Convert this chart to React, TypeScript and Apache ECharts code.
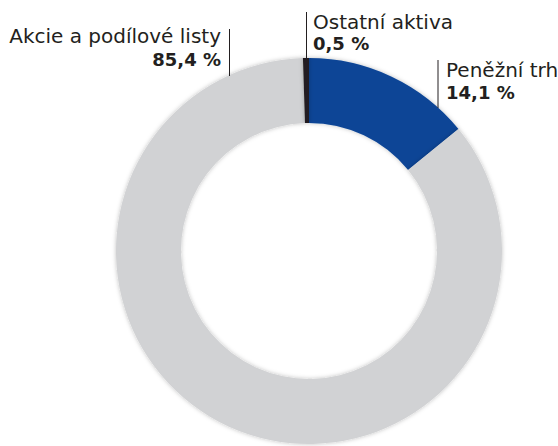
import React, { useEffect, useRef } from "react";
import * as echarts from "echarts";

const categories = ["Peněžní trh", "Akcie a podílové listy", "Ostatní aktiva"];
const values = [14.1, 85.4, 0.5];
const valueLabels = ["14,1 %", "85,4 %", "0,5 %"];
const colors = ["#0b4596", "#d1d2d4", "#231f20"];

export default function App() {
  const ref = useRef<HTMLDivElement>(null);
  useEffect(() => {
    document.body.style.margin = "0";
    if (!ref.current) return;
    const chart = echarts.init(ref.current, null, { renderer: "svg" });
    const font = "DejaVu Sans";
    const txt = "#231f20";
    const nameStyle = (text: string, x: number, y: number, align: string) => ({
      type: "text",
      style: { text, x, y, fill: txt, font: `20px "${font}"`, textAlign: align, textVerticalAlign: "middle" },
    });
    const valStyle = (text: string, x: number, y: number, align: string) => ({
      type: "text",
      style: { text, x, y, fill: txt, font: `bold 18px "${font}"`, textAlign: align, textVerticalAlign: "middle" },
    });
    const line = (x: number, y1: number, y2: number) => ({
      type: "line",
      shape: { x1: x, y1, x2: x, y2 },
      style: { stroke: txt, lineWidth: 1 },
      z: 10,
    });
    chart.setOption({
      animation: false,
      series: [
        {
          type: "pie",
          center: [309, 251],
          radius: [128, 193],
          startAngle: 90,
          clockwise: true,
          label: { show: false },
          labelLine: { show: false },
          silent: true,
          itemStyle: { borderWidth: 0, shadowBlur: 4, shadowColor: "rgba(0,0,0,0.25)" },
          data: categories.map((name, i) => ({ name, value: values[i], itemStyle: { color: colors[i] } })),
        },
      ],
      graphic: [
        line(229.5, 29, 76),
        nameStyle(categories[1], 221, 36, "right"),
        valStyle(valueLabels[1], 221, 59, "right"),
        line(306.5, 12, 60),
        nameStyle(categories[2], 313, 22, "left"),
        valStyle(valueLabels[2], 313, 43, "left"),
        line(438, 60, 108),
        nameStyle(categories[0], 446, 70, "left"),
        valStyle(valueLabels[0], 446, 92, "left"),
      ],
    });
    return () => chart.dispose();
  }, []);
  return <div ref={ref} style={{ width: 558, height: 446 }} />;
}
